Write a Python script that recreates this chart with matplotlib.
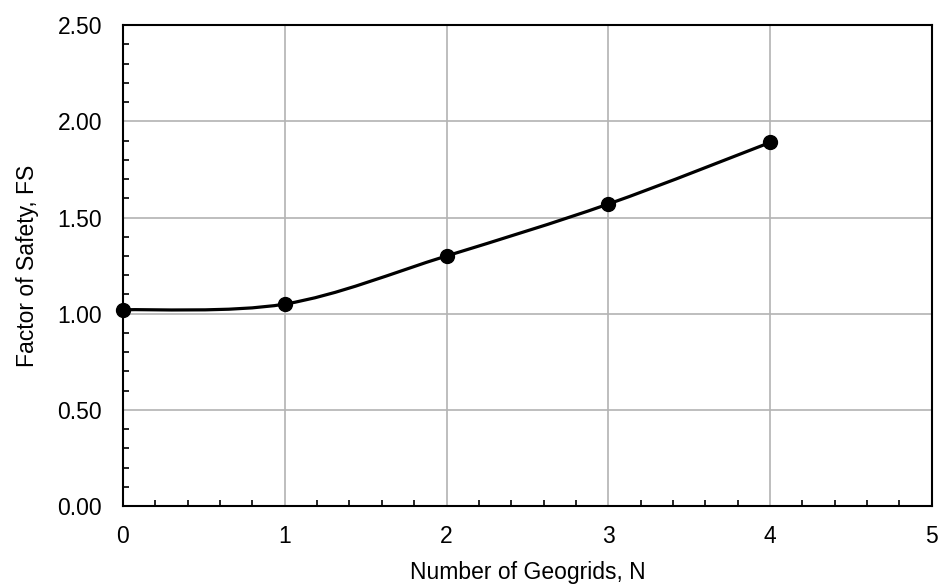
import matplotlib.pyplot as plt
import numpy as np
from matplotlib.path import Path
from matplotlib.patches import PathPatch
from matplotlib.ticker import MultipleLocator

plt.rcParams['font.family'] = ['Liberation Sans', 'DejaVu Sans']

n_geogrids = [0, 1, 2, 3, 4]
factor_of_safety = [1.02, 1.05, 1.30, 1.57, 1.89]


def smooth_path(x, y):
    # Excel-style smoothed line: cubic Bezier segments through the points
    pts = np.column_stack([x, y]).astype(float)
    verts = [pts[0]]
    codes = [Path.MOVETO]
    for i in range(len(pts) - 1):
        p_prev = pts[i - 1] if i > 0 else pts[i]
        p_next = pts[i + 2] if i + 2 < len(pts) else pts[i + 1]
        c1 = pts[i] + (pts[i + 1] - p_prev) / 6
        c2 = pts[i + 1] - (p_next - pts[i]) / 6
        verts += [c1, c2, pts[i + 1]]
        codes += [Path.CURVE4] * 3
    return Path(verts, codes)


fig = plt.figure(figsize=(9.46, 5.85), dpi=100)
ax = fig.add_axes([0.130, 0.135, 0.855, 0.822])

ax.add_patch(PathPatch(smooth_path(n_geogrids, factor_of_safety), fill=False,
                       edgecolor='black', linewidth=2.3, zorder=3))
ax.plot(n_geogrids, factor_of_safety, 'o', color='black', markersize=10,
        zorder=4, clip_on=False)

ax.set_xlim(0, 5)
ax.set_ylim(0, 2.5)
ax.xaxis.set_major_locator(MultipleLocator(1))
ax.xaxis.set_minor_locator(MultipleLocator(0.2))
ax.yaxis.set_major_locator(MultipleLocator(0.5))
ax.yaxis.set_minor_locator(MultipleLocator(0.1))
ax.yaxis.set_major_formatter(lambda v, p: f"{v:.2f}")

ax.grid(True, which='major', color='#b3b3b3', linewidth=1.2)
ax.set_axisbelow(True)
ax.tick_params(which='major', direction='in', length=0, labelsize=16.5)
ax.tick_params(axis='x', which='major', pad=14)
ax.tick_params(axis='y', which='major', pad=15)
ax.tick_params(which='minor', direction='in', length=4, width=1.2)
for s in ax.spines.values():
    s.set_linewidth(1.5)

ax.set_xlabel("Number of Geogrids, N", fontsize=16.5, labelpad=9)
ax.set_ylabel("Factor of Safety, FS", fontsize=16.5, labelpad=13)

plt.savefig("out.png", dpi=100)
